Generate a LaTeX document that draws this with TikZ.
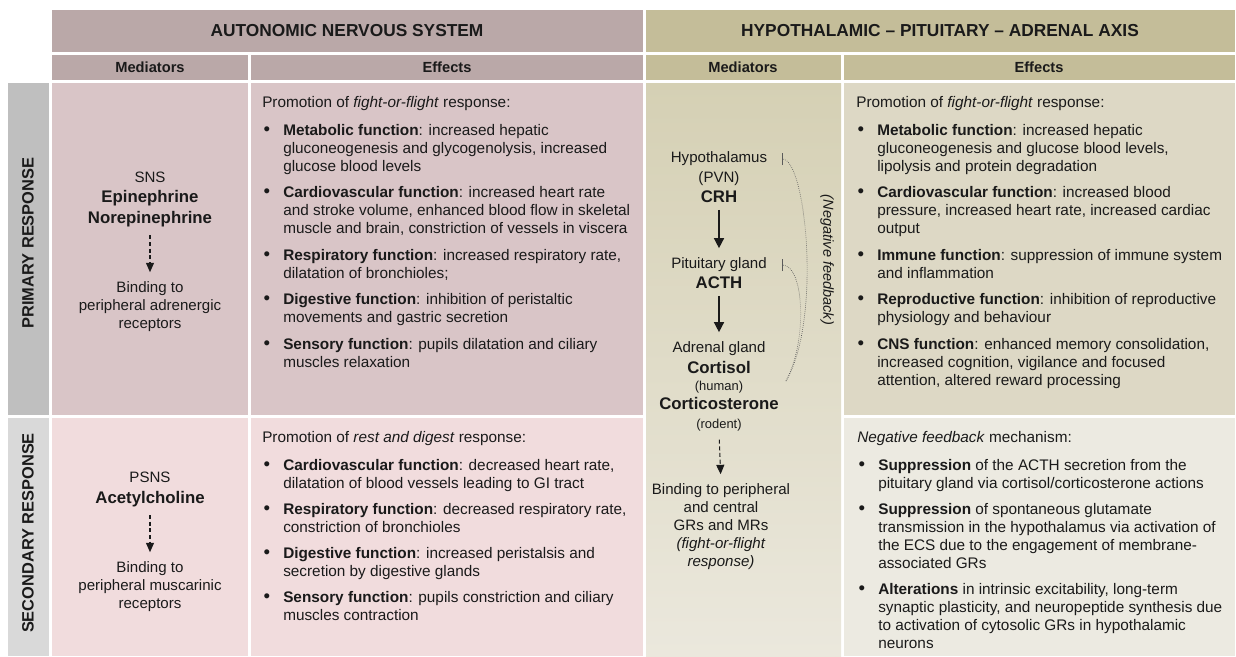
\documentclass[tikz,border=0pt]{standalone}
\usepackage{fontspec}
\setmainfont{Liberation Sans}
\usetikzlibrary{arrows.meta}
\definecolor{ansdark}{RGB}{186,168,168}
\definecolor{anspri}{RGB}{217,197,199}
\definecolor{anssec}{RGB}{241,220,221}
\definecolor{hpadark}{RGB}{196,189,153}
\definecolor{hpapri}{RGB}{221,216,197}
\definecolor{hpasec}{RGB}{236,234,225}
\definecolor{hpatop}{RGB}{213,208,180}
\definecolor{hpabot}{RGB}{235,232,221}
\definecolor{labpri}{RGB}{191,191,191}
\definecolor{labsec}{RGB}{217,217,217}
\definecolor{ink}{RGB}{26,26,26}
\definecolor{fbgray}{RGB}{90,90,90}
\newcommand{\bul}{\makebox[15.75pt][l]{\hspace{1pt}{\fontsize{14}{13.5}\selectfont\textbullet}}}
\newcommand{\medname}[1]{{\fontsize{12.6}{15}\selectfont\bfseries #1}}
\newcommand{\medsmall}[1]{{\fontsize{9.7}{12}\selectfont #1}}
\tikzset{
  syshead/.style={font=\fontsize{13}{15}\selectfont\bfseries, text=ink},
  colhead/.style={font=\fontsize{11}{13}\selectfont\bfseries, text=ink},
  rowlabel/.style={font=\fontsize{12.3}{15}\selectfont\bfseries, text=ink, rotate=90},
  med/.style={anchor=north, align=center, inner sep=0pt, font=\fontsize{11.3}{13.5}\selectfont, text=ink},
  effects/.style={anchor=base west, inner sep=0pt, font=\fontsize{11.5}{13.5}\selectfont, text=ink},
  axisarrow/.style={line width=1.1pt, ink, -{Triangle[length=7.5pt,width=7.5pt]}, shorten <=5pt, shorten >=7pt},
  bindarrow/.style={densely dashed, line width=0.8pt, ink, -{Triangle[length=7pt,width=6pt]}, shorten <=6pt, shorten >=7pt},
  feedback/.style={densely dotted, fbgray, line width=0.5pt, -{Bar[width=9pt]}},
}
\begin{document}
\begin{tikzpicture}[x=0.75pt, y=-0.75pt]
  \useasboundingbox (0,0) rectangle (1236,657);
  \fill[ansdark] (52,10) rectangle (643,52);
  \fill[hpadark] (646,10) rectangle (1235,52);
  \fill[ansdark] (52,55) rectangle (248,80);
  \fill[ansdark] (251,55) rectangle (643,80);
  \fill[hpadark] (646,55) rectangle (841,80);
  \fill[hpadark] (844,55) rectangle (1235,80);
  \fill[labpri] (8,83) rectangle (49,415);
  \fill[labsec] (8,418) rectangle (49,656);
  \fill[anspri] (52,83) rectangle (248,415);
  \fill[anspri] (251,83) rectangle (643,415);
  \fill[anssec] (52,418) rectangle (248,656);
  \fill[anssec] (251,418) rectangle (643,656);
  \shade[top color=hpatop, bottom color=hpabot] (646,83) rectangle (841,656);
  \fill[hpapri] (844,83) rectangle (1235,415);
  \fill[hpasec] (844,418) rectangle (1235,656);

  \node[syshead] (anshead) at (347,31) {AUTONOMIC NERVOUS SYSTEM};
  \node[syshead] (hpahead) at (940,31) {HYPOTHALAMIC -- PITUITARY -- ADRENAL AXIS};
  \node[colhead] (ansmed) at (150,67.5) {Mediators};
  \node[colhead] (anseff) at (447,67.5) {Effects};
  \node[colhead] (hpamed) at (743,67.5) {Mediators};
  \node[colhead] (hpaeff) at (1039,67.5) {Effects};
  \node[rowlabel] (prilabel) at (28,243) {PRIMARY RESPONSE};
  \node[rowlabel] (seclabel) at (28,533) {SECONDARY RESPONSE};

  \node[med] (sns) at (150,171.5) {SNS\\[2pt] \medname{Epinephrine}\\[2pt] \medname{Norepinephrine}};
  \node[med] (adrbind) at (150,281.5) {Binding to\\ peripheral adrenergic\\ receptors};
  \node[med] (psns) at (150,471.5) {PSNS\\[2.25pt] \medname{Acetylcholine}};
  \node[med] (muscbind) at (150,561.5) {Binding to\\ peripheral muscarinic\\ receptors};
  \node[med] (hyp) at (719,151.5) {Hypothalamus\\[1.5pt] (PVN)\\[1.5pt] \medname{CRH}};
  \node[med] (pit) at (719,257.5) {Pituitary gland\\[1.5pt] \medname{ACTH}};
  \node[med] (adr) at (719,341.5) {Adrenal gland\\[2.25pt] \medname{Cortisol}\\[-0.75pt] \medsmall{(human)}\\[0.75pt] \medname{Corticosterone}\\[0.75pt] \medsmall{(rodent)}};
  \node[med] (grbind) at (721,483.5) {Binding to peripheral\\ and central\\ GRs and MRs\\ \textit{(fight-or-flight}\\ \textit{response)}};

  \draw[bindarrow] (sns.south) -- (adrbind.north);
  \draw[bindarrow] (psns.south) -- (muscbind.north);
  \draw[axisarrow] (hyp.south) -- (pit.north);
  \draw[axisarrow] (pit.south) -- (adr.north);
  \draw[bindarrow] (adr.south) -- (grbind.north);

  \coordinate (fbhyp) at (782,159);
  \coordinate (fbpit) at (782,265);
  \coordinate (fbadr) at (786,381);
  \draw[feedback] (fbadr) .. controls (822,320) and (806,159) .. (fbhyp);
  \draw[feedback] (fbadr) .. controls (808,340) and (804,265) .. (fbpit);
  \node[rotate=-90, font=\fontsize{10.9}{13}\selectfont\itshape, text=ink] (fblabel) at (827,260) {(Negative feedback)};

  \node[effects] (ansprieff) at (262,107) {\begin{tabular}[t]{@{}l@{}l@{}}
    \multicolumn{2}{@{}l@{}}{Promotion of \textit{fight-or-flight} response:}\\[7.5pt]
    \bul & \textbf{Metabolic function}: increased hepatic\\
    & gluconeogenesis and glycogenolysis, increased\\
    & glucose blood levels\\[6.4pt]
    \bul & \textbf{Cardiovascular function}: increased heart rate\\
    & and stroke volume, enhanced blood flow in skeletal\\
    & muscle and brain, constriction of vessels in viscera\\[6.4pt]
    \bul & \textbf{Respiratory function}: increased respiratory rate,\\
    & dilatation of bronchioles;\\[6.4pt]
    \bul & \textbf{Digestive function}: inhibition of peristaltic\\
    & movements and gastric secretion\\[6.4pt]
    \bul & \textbf{Sensory function}: pupils dilatation and ciliary\\
    & muscles relaxation
  \end{tabular}};
  \node[effects] (anseceff) at (262,442) {\begin{tabular}[t]{@{}l@{}l@{}}
    \multicolumn{2}{@{}l@{}}{Promotion of \textit{rest and digest} response:}\\[7.5pt]
    \bul & \textbf{Cardiovascular function}: decreased heart rate,\\
    & dilatation of blood vessels leading to GI tract\\[6pt]
    \bul & \textbf{Respiratory function}: decreased respiratory rate,\\
    & constriction of bronchioles\\[6pt]
    \bul & \textbf{Digestive function}: increased peristalsis and\\
    & secretion by digestive glands\\[6pt]
    \bul & \textbf{Sensory function}: pupils constriction and ciliary\\
    & muscles contraction
  \end{tabular}};
  \node[effects] (hpaprieff) at (856,107) {\begin{tabular}[t]{@{}l@{}l@{}}
    \multicolumn{2}{@{}l@{}}{Promotion of \textit{fight-or-flight} response:}\\[7.5pt]
    \bul & \textbf{Metabolic function}: increased hepatic\\
    & gluconeogenesis and glucose blood levels,\\
    & lipolysis and protein degradation\\[6.4pt]
    \bul & \textbf{Cardiovascular function}: increased blood\\
    & pressure, increased heart rate, increased cardiac\\
    & output\\[6.4pt]
    \bul & \textbf{Immune function}: suppression of immune system\\
    & and inflammation\\[6.4pt]
    \bul & \textbf{Reproductive function}: inhibition of reproductive\\
    & physiology and behaviour\\[6.4pt]
    \bul & \textbf{CNS function}: enhanced memory consolidation,\\
    & increased cognition, vigilance and focused\\
    & attention, altered reward processing
  \end{tabular}};
  \node[effects] (hpaseceff) at (857,442) {\begin{tabular}[t]{@{}l@{}l@{}}
    \multicolumn{2}{@{}l@{}}{\textit{Negative feedback} mechanism:}\\[7.5pt]
    \bul & \textbf{Suppression} of the ACTH secretion from the\\
    & pituitary gland via cortisol/corticosterone actions\\[6pt]
    \bul & \textbf{Suppression} of spontaneous glutamate\\
    & transmission in the hypothalamus via activation of\\
    & the ECS due to the engagement of membrane-\\
    & associated GRs\\[6pt]
    \bul & \textbf{Alterations} in intrinsic excitability, long-term\\
    & synaptic plasticity, and neuropeptide synthesis due\\
    & to activation of cytosolic GRs in hypothalamic\\
    & neurons
  \end{tabular}};
\end{tikzpicture}
\end{document}
